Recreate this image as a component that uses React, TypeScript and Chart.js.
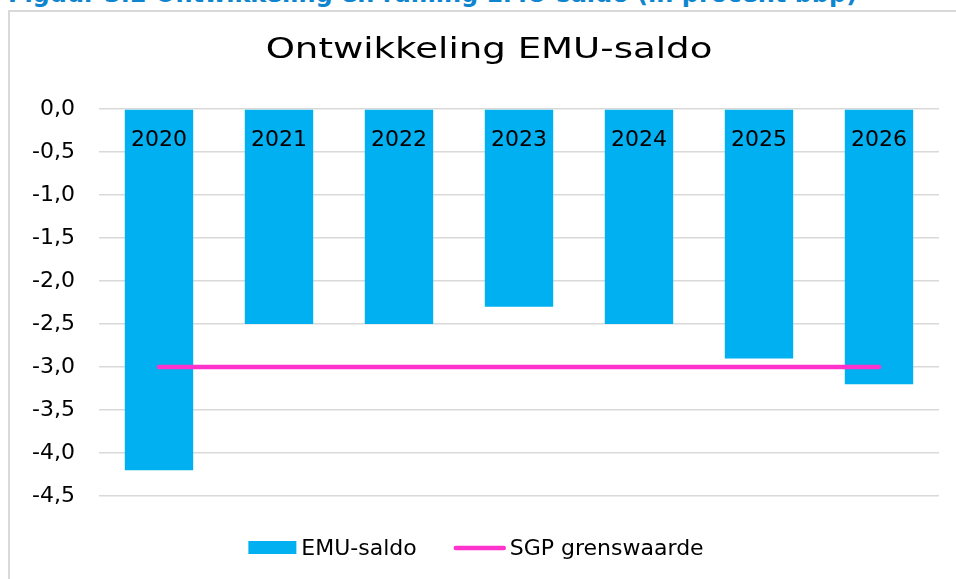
import React, { useEffect, useRef } from "react";
import { Chart, registerables } from "chart.js";

Chart.register(...registerables);

// ---- data ----
const categories = ["2020", "2021", "2022", "2023", "2024", "2025", "2026"];
const emuSaldo = [-4.2, -2.5, -2.5, -2.3, -2.5, -2.9, -3.2];
const sgpGrenswaarde = [-3.0, -3.0, -3.0, -3.0, -3.0, -3.0, -3.0];
const yMin = -4.5;
const yMax = 0;
const yStep = 0.5;
const chartTitle = "Ontwikkeling EMU-saldo";
const figureCaption = "Figuur 3.2 Ontwikkeling en raming EMU-saldo (in procent bbp)";
const seriesNames = ["EMU-saldo", "SGP grenswaarde"];

// ---- style ----
const BAR_COLOR = "#00B0F0";
const LINE_COLOR = "#FF33CC";
const GRID_COLOR = "#d9d9d9";
const TEXT_COLOR = "#000000";
const FONT = '"DejaVu Sans", Verdana, sans-serif';

const categoryLabelPlugin = {
  id: "categoryLabels",
  afterDatasetsDraw(chart: any) {
    const { ctx, chartArea, scales } = chart;
    const x = scales.x;
    ctx.save();
    ctx.font = `22px ${FONT}`;
    ctx.fillStyle = TEXT_COLOR;
    ctx.textAlign = "center";
    ctx.textBaseline = "alphabetic";
    categories.forEach((c, i) => {
      ctx.fillText(c, x.getPixelForValue(i), chartArea.top + 37);
    });
    ctx.restore();
  },
};

const titlePlugin = {
  id: "stretchedTitle",
  afterDraw(chart: any) {
    const { ctx } = chart;
    ctx.save();
    ctx.font = `29px ${FONT}`;
    ctx.fillStyle = TEXT_COLOR;
    ctx.textAlign = "center";
    ctx.textBaseline = "alphabetic";
    ctx.translate(489, 58);
    ctx.scale(1.28, 1);
    ctx.fillText(chartTitle, 0, 0);
    ctx.restore();
  },
};

const legendPlugin = {
  id: "customLegend",
  afterDraw(chart: any) {
    const { ctx } = chart;
    ctx.save();
    ctx.font = `22px ${FONT}`;
    ctx.fillStyle = TEXT_COLOR;
    ctx.textBaseline = "middle";
    ctx.textAlign = "left";
    const w1 = ctx.measureText(seriesNames[0]).width;
    const w2 = ctx.measureText(seriesNames[1]).width;
    const boxW = 48;
    const lineW = 52;
    const total = boxW + 5 + w1 + 37 + lineW + 4 + w2;
    const cy = 548;
    let xPos = 476 - total / 2;
    ctx.fillStyle = BAR_COLOR;
    ctx.fillRect(xPos, cy - 7, boxW, 13);
    xPos += boxW + 5;
    ctx.fillStyle = TEXT_COLOR;
    ctx.fillText(seriesNames[0], xPos, cy + 1);
    xPos += w1 + 37;
    ctx.strokeStyle = LINE_COLOR;
    ctx.lineWidth = 4.5;
    ctx.lineCap = "round";
    ctx.beginPath();
    ctx.moveTo(xPos + 2, cy);
    ctx.lineTo(xPos + lineW - 2, cy);
    ctx.stroke();
    xPos += lineW + 4;
    ctx.fillText(seriesNames[1], xPos, cy + 1);
    ctx.restore();
  },
};

export default function App() {
  const canvasRef = useRef<HTMLCanvasElement | null>(null);

  useEffect(() => {
    if (!canvasRef.current) return;
    const chart = new Chart(canvasRef.current, {
      type: "bar",
      data: {
        labels: categories,
        datasets: [
          {
            type: "line",
            label: seriesNames[1],
            data: sgpGrenswaarde,
            borderColor: LINE_COLOR,
            backgroundColor: LINE_COLOR,
            borderWidth: 4.5,
            borderCapStyle: "round",
            pointRadius: 0,
            pointHoverRadius: 0,
            fill: false,
            order: 0,
          } as any,
          {
            type: "bar",
            label: seriesNames[0],
            data: emuSaldo,
            backgroundColor: BAR_COLOR,
            borderWidth: 0,
            categoryPercentage: 1,
            barPercentage: 0.57,
            order: 1,
          },
        ],
      },
      options: {
        responsive: false,
        animation: false,
        devicePixelRatio: 1,
        layout: { padding: { left: 0, right: 17, top: 109, bottom: 83 } },
        plugins: {
          legend: { display: false },
          title: { display: false },
          tooltip: { enabled: false },
        },
        scales: {
          x: {
            type: "category",
            display: false,
            offset: true,
            grid: { display: false },
          },
          y: {
            min: yMin,
            max: yMax,
            border: { display: false },
            grid: { color: GRID_COLOR, lineWidth: 1.5, drawTicks: false },
            ticks: {
              stepSize: yStep,
              padding: 24,
              color: TEXT_COLOR,
              font: { family: FONT, size: 22 },
              callback: (v: any) => Number(v).toFixed(1).replace(".", ","),
            },
            afterFit: (scale: any) => {
              scale.width = 99;
            },
          },
        },
      },
      plugins: [categoryLabelPlugin, titlePlugin, legendPlugin],
    });
    return () => chart.destroy();
  }, []);

  return (
    <div
      style={{
        position: "absolute",
        left: 0,
        top: 0,
        width: 956,
        height: 579,
        overflow: "hidden",
        background: "#fff",
      }}
    >
      <div
        style={{
          position: "absolute",
          left: 8,
          top: -18,
          whiteSpace: "nowrap",
          fontFamily: FONT,
          fontWeight: "bold",
          fontSize: 24,
          lineHeight: "24px",
          color: "#0E86CF",
        }}
      >
        {figureCaption}
      </div>
      <div
        style={{
          position: "absolute",
          left: 8,
          top: 10,
          width: 2000,
          height: 2000,
          borderLeft: "2px solid #d9d9d9",
          borderTop: "2px solid #d9d9d9",
        }}
      />
      <canvas
        ref={canvasRef}
        width={956}
        height={579}
        style={{ position: "absolute", left: 0, top: 0 }}
      />
    </div>
  );
}
